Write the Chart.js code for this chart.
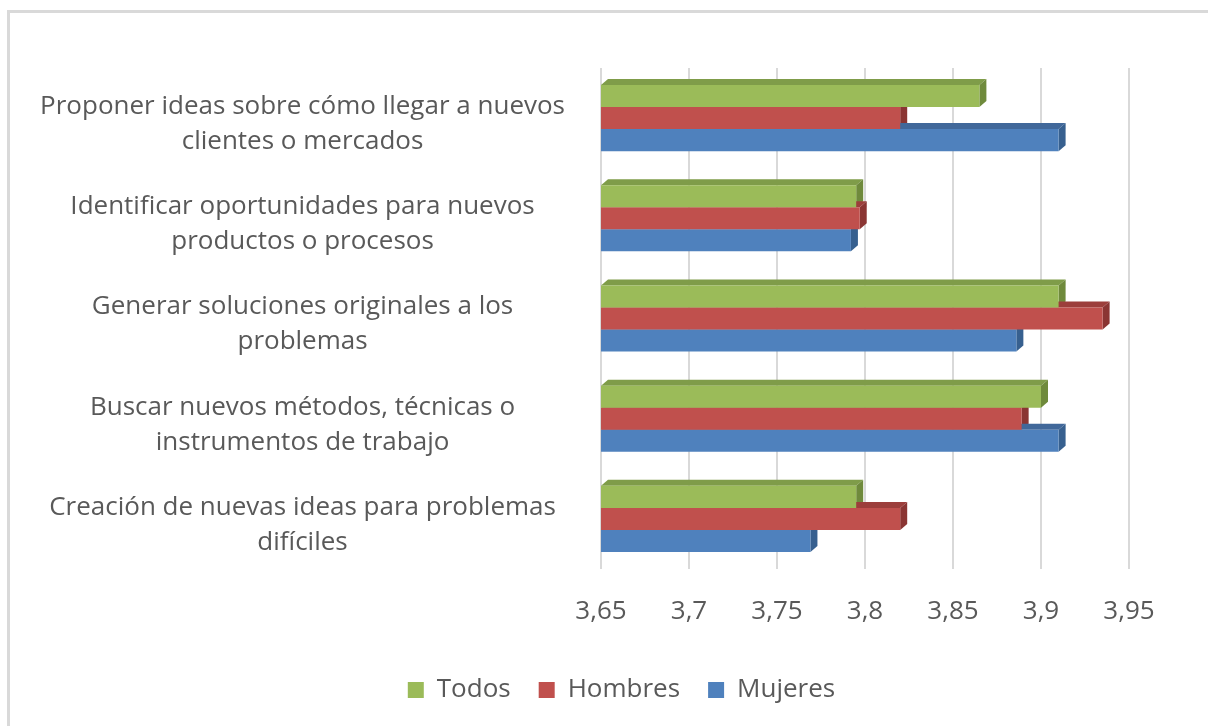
<!DOCTYPE html>
<html>
<head>
<meta charset="utf-8">
<script src="https://cdn.jsdelivr.net/npm/chart.js@4/dist/chart.umd.min.js"></script>
<style>
  html, body { margin: 0; padding: 0; background: #fff; overflow: hidden; }
  #frame { position: absolute; left: 7px; top: 10px; width: 1240px; height: 760px; border: 3px solid #d9d9d9; box-sizing: border-box; }
  #wrap { position: absolute; left: 0; top: 0; width: 1208px; height: 726px; }
</style>
</head>
<body>
<div id="frame"></div>
<div id="wrap"><canvas id="barChart"></canvas></div>
<script>
var categories = [
  ["Proponer ideas sobre cómo llegar a nuevos", "clientes o mercados"],
  ["Identificar oportunidades para nuevos", "productos o procesos"],
  ["Generar soluciones originales a los", "problemas"],
  ["Buscar nuevos métodos, técnicas o", "instrumentos de trabajo"],
  ["Creación de nuevas ideas para problemas", "difíciles"]
];
var todos   = [3.865, 3.795, 3.91, 3.90, 3.795];
var hombres = [3.82, 3.797, 3.935, 3.889, 3.82];
var mujeres = [3.91, 3.792, 3.886, 3.91, 3.769];

// darker shades for the fake 3d side / top faces
var sideColors = ["#6f8a3c", "#8a3533", "#37608f"];
var topColors  = ["#7f9c49", "#9c3e3b", "#41689a"];

var depth3d = {
  id: 'depth3d',
  afterLayout: function (chart) {
    // legend sits a bit right of the canvas centre in the original
    chart.legend.left += 57;
    chart.legend.right += 57;
  },
  beforeDatasetsDraw: function (chart) {
    var ctx = chart.ctx, dx = 7, dy = 6;
    var left = chart.chartArea.left;
    ctx.save();
    chart.data.datasets.forEach(function (ds, i) {
      chart.getDatasetMeta(i).data.forEach(function (bar) {
        var p = bar.getProps(['x', 'y', 'base', 'height'], true);
        var base = Math.max(p.base, left);
        var top = p.y - p.height / 2, bot = p.y + p.height / 2;
        ctx.fillStyle = topColors[i];
        ctx.beginPath();
        ctx.moveTo(base, top);
        ctx.lineTo(base + dx, top - dy);
        ctx.lineTo(p.x + dx, top - dy);
        ctx.lineTo(p.x, top);
        ctx.closePath();
        ctx.fill();
        ctx.fillStyle = sideColors[i];
        ctx.beginPath();
        ctx.moveTo(p.x, top);
        ctx.lineTo(p.x + dx, top - dy);
        ctx.lineTo(p.x + dx, bot - dy);
        ctx.lineTo(p.x, bot);
        ctx.closePath();
        ctx.fill();
      });
    });
    ctx.restore();
  }
};

Chart.defaults.font.family = "'Open Sans', sans-serif";
Chart.defaults.color = "#595959";

new Chart(document.getElementById("barChart"), {
  type: 'bar',
  data: {
    labels: categories,
    datasets: [{
        data: todos,
        label: "Todos",
        backgroundColor: "#9BBB59"
      }, {
        data: hombres,
        label: "Hombres",
        backgroundColor: "#C0504D"
      }, {
        data: mujeres,
        label: "Mujeres",
        backgroundColor: "#4F81BD"
      }
    ]
  },
  options: {
    indexAxis: 'y',
    responsive: true,
    maintainAspectRatio: false,
    animation: false,
    datasets: { bar: { categoryPercentage: 0.66, barPercentage: 1 } },
    layout: { padding: { top: 68, right: 79, bottom: 13, left: 0 } },
    scales: {
      x: {
        min: 3.65,
        max: 3.95,
        grid: { color: "#d9d9d9", lineWidth: 2, drawTicks: false },
        border: { display: false },
        ticks: {
          stepSize: 0.05,
          padding: 27,
          font: { size: 26 },
          callback: function (v) { return Number(v.toFixed(2)).toString().replace('.', ','); }
        },
        afterFit: function (s) { s.height = 80; }
      },
      y: {
        grid: { display: false },
        border: { display: false },
        ticks: { crossAlign: 'center', padding: 28, labelOffset: 6, font: { size: 26, lineHeight: 1.35 } },
        afterFit: function (s) { s.width = 601; }
      }
    },
    plugins: {
      legend: {
        position: 'bottom',
        labels: { boxWidth: 16, boxHeight: 16, padding: 28, font: { size: 26 } }
      },
      tooltip: { enabled: false }
    }
  },
  plugins: [depth3d]
});
</script>
</body>
</html>
